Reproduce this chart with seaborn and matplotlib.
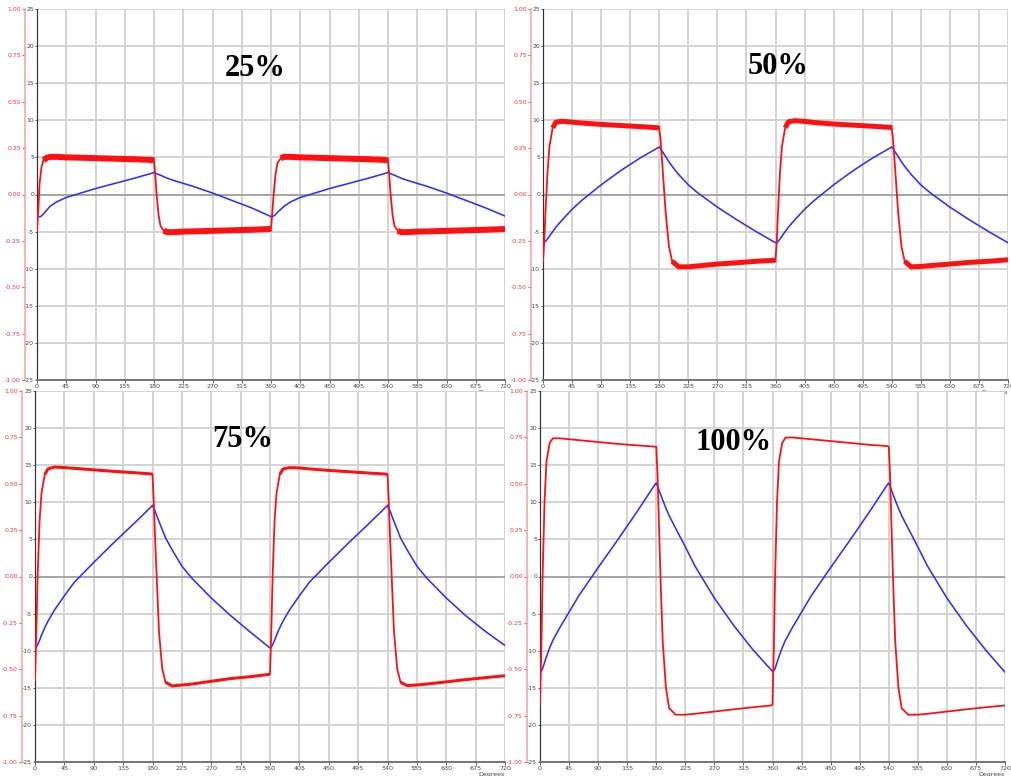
import numpy as np
import matplotlib
matplotlib.use("Agg")
import matplotlib.pyplot as plt
import seaborn as sns

# ---------------- data ----------------
deg = [0, 2, 4, 7, 10, 15, 20, 30, 45, 60, 90, 120, 150, 178,
       180, 182, 184, 187, 190, 195, 200, 210, 225, 240, 270, 300, 330, 358,
       360, 362, 364, 367, 370, 375, 380, 390, 405, 420, 450, 480, 510, 538,
       540, 542, 544, 547, 550, 555, 560, 570, 585, 600, 630, 660, 690, 720]

x_ticks = [0, 45, 90, 135, 180, 225, 270, 315, 360, 405, 450, 495, 540, 585, 630, 675, 720]
y_ticks = [-25, -20, -15, -10, -5, 0, 5, 10, 15, 20, 25]
red_ticks = [-1.0, -0.75, -0.5, -0.25, 0.0, 0.25, 0.5, 0.75, 1.0]
titles = ["25%", "50%", "75%", "100%"]

red_25 = [-0.20, -0.08, 0.06, 0.15, 0.185, 0.198, 0.203, 0.203, 0.200, 0.199, 0.196, 0.193, 0.190, 0.186,
          0.182, 0.10, 0.0, -0.11, -0.17, -0.195, -0.203, -0.203, -0.200, -0.199, -0.196, -0.193, -0.190, -0.186,
          -0.182, -0.10, 0.0, 0.11, 0.17, 0.195, 0.203, 0.203, 0.200, 0.199, 0.196, 0.193, 0.190, 0.186,
          0.182, 0.10, 0.0, -0.11, -0.17, -0.195, -0.203, -0.203, -0.200, -0.199, -0.196, -0.193, -0.190, -0.186]
blue_25 = [-3.0, -3.0, -3.0, -2.9, -2.6, -2.1, -1.6, -1.0, -0.4, 0.0, 0.8, 1.5, 2.2, 2.9,
           3.0, 2.9, 2.8, 2.7, 2.6, 2.4, 2.2, 1.9, 1.5, 1.1, 0.2, -0.8, -1.8, -2.9,
           -3.0, -3.0, -2.9, -2.7, -2.4, -2.0, -1.6, -1.0, -0.4, 0.0, 0.8, 1.5, 2.2, 2.9,
           3.0, 2.9, 2.8, 2.7, 2.6, 2.4, 2.2, 1.9, 1.5, 1.1, 0.2, -0.8, -1.8, -2.9]

red_50 = [-0.36, -0.25, -0.08, 0.12, 0.26, 0.36, 0.39, 0.395, 0.39, 0.385, 0.378, 0.372, 0.366, 0.36,
          0.355, 0.30, 0.20, 0.05, -0.10, -0.28, -0.36, -0.39, -0.39, -0.385, -0.375, -0.368, -0.36, -0.355,
          -0.35, -0.25, -0.08, 0.12, 0.26, 0.36, 0.392, 0.398, 0.394, 0.388, 0.38, 0.374, 0.368, 0.362,
          0.358, 0.30, 0.20, 0.05, -0.10, -0.28, -0.36, -0.39, -0.388, -0.383, -0.375, -0.366, -0.36, -0.352]
blue_50 = [-6.5, -6.5, -6.3, -6.0, -5.6, -5.0, -4.4, -3.4, -2.0, -0.8, 1.3, 3.2, 4.9, 6.3,
           6.4, 6.2, 5.9, 5.5, 5.1, 4.4, 3.8, 2.7, 1.3, 0.2, -1.7, -3.4, -5.0, -6.4,
           -6.5, -6.5, -6.3, -6.0, -5.6, -5.0, -4.4, -3.4, -2.0, -0.8, 1.3, 3.2, 4.9, 6.3,
           6.4, 6.2, 5.9, 5.5, 5.1, 4.4, 3.8, 2.7, 1.3, 0.2, -1.7, -3.4, -5.0, -6.5]

red_75 = [-0.56, -0.30, 0.0, 0.30, 0.45, 0.55, 0.58, 0.59, 0.587, 0.583, 0.575, 0.567, 0.56, 0.553,
          0.55, 0.40, 0.20, -0.05, -0.30, -0.50, -0.57, -0.59, -0.585, -0.58, -0.565, -0.55, -0.54, -0.528,
          -0.525, -0.30, 0.0, 0.30, 0.45, 0.55, 0.58, 0.587, 0.585, 0.58, 0.572, 0.565, 0.558, 0.552,
          0.55, 0.40, 0.20, -0.05, -0.30, -0.50, -0.57, -0.588, -0.585, -0.58, -0.568, -0.556, -0.545, -0.535]
blue_75 = [-9.6, -9.5, -9.2, -8.6, -7.9, -6.9, -6.0, -4.5, -2.6, -0.8, 1.9, 4.5, 7.0, 9.4,
           9.6, 9.2, 8.8, 8.1, 7.4, 6.3, 5.2, 3.6, 1.4, -0.2, -2.9, -5.3, -7.5, -9.5,
           -9.6, -9.5, -9.2, -8.6, -7.9, -6.9, -6.0, -4.5, -2.6, -0.8, 1.9, 4.5, 7.0, 9.4,
           9.6, 9.2, 8.8, 8.1, 7.4, 6.3, 5.2, 3.6, 1.4, -0.2, -2.9, -5.3, -7.4, -9.3]

red_100 = [-0.69, -0.40, 0.0, 0.40, 0.62, 0.72, 0.745, 0.745, 0.74, 0.735, 0.725, 0.715, 0.707, 0.70,
           0.70, 0.55, 0.30, -0.05, -0.35, -0.60, -0.71, -0.745, -0.745, -0.74, -0.728, -0.716, -0.705, -0.695,
           -0.69, -0.40, 0.0, 0.40, 0.62, 0.72, 0.748, 0.75, 0.745, 0.74, 0.73, 0.72, 0.71, 0.703,
           0.70, 0.55, 0.30, -0.05, -0.35, -0.60, -0.71, -0.745, -0.745, -0.74, -0.728, -0.716, -0.705, -0.695]
blue_100 = [-12.9, -12.8, -12.4, -11.6, -10.8, -9.6, -8.6, -7.0, -4.8, -2.6, 1.2, 4.9, 8.7, 12.4,
            12.6, 12.2, 11.7, 11.0, 10.3, 9.2, 8.2, 6.5, 4.0, 1.4, -2.9, -6.6, -9.9, -12.6,
            -12.8, -12.7, -12.4, -11.6, -10.8, -9.6, -8.6, -7.0, -4.8, -2.6, 1.2, 4.9, 8.7, 12.4,
            12.6, 12.2, 11.7, 11.0, 10.3, 9.2, 8.2, 6.5, 4.0, 1.4, -2.9, -6.6, -9.9, -12.9]

# ---------------- layout / style ----------------
W, H = 1011, 776
positions = [
    [37 / W, 1 - 380 / H, 468 / W, 371 / H],
    [543 / W, 1 - 380 / H, 465 / W, 371 / H],
    [35 / W, 1 - 762 / H, 470 / W, 371 / H],
    [540 / W, 1 - 762 / H, 465 / W, 371 / H],
]
title_pos = [(335, 17.0), (364, 17.3), (318, 18.4), (299, 18.0)]
band_px = [6, 5, 3, 0]
red_offset_px = [12, 12, 13, 13]

reds = [red_25, red_50, red_75, red_100]
blues = [blue_25, blue_50, blue_75, blue_100]

sns.set_style("white")
plt.rcParams["font.family"] = ["DejaVu Sans"]

fig = plt.figure(figsize=(W / 100, H / 100), dpi=100)
PX = 72 / 100  # points per pixel

for i in range(4):
    ax = fig.add_axes(positions[i])
    ax2 = ax.twinx()

    ax.set_xlim(0, 720)
    ax.set_ylim(-25, 25)
    ax2.set_ylim(-1, 1)

    # grid
    ax.set_xticks(x_ticks)
    ax.set_yticks(y_ticks)
    ax.grid(True, color="#d4d4d4", linewidth=2 * PX)
    ax.set_axisbelow(True)
    ax.axhline(0, color="#a6a6a6", linewidth=2 * PX, zorder=1)

    # blue trace
    sns.lineplot(x=deg, y=blues[i], ax=ax, color="#2f2fff",
                 linewidth=1.6 * PX, estimator=None, sort=False, zorder=3)

    # red trace on the secondary (red) scale
    r = np.array(reds[i])
    sns.lineplot(x=deg, y=reds[i], ax=ax2, color="#ff1010",
                 linewidth=1.8 * PX, estimator=None, sort=False)
    if band_px[i] > 0:
        band = np.where(np.abs(r) >= 0.85 * np.abs(r).max(), r, np.nan)
        ax2.plot(deg, band, color="#ff1010", linewidth=band_px[i] * PX,
                 solid_capstyle="butt", solid_joinstyle="round")

    # black axes
    for s in ["top", "right"]:
        ax.spines[s].set_visible(False)
    ax.spines["left"].set_color("#333333")
    ax.spines["left"].set_linewidth(1.2 * PX)
    ax.spines["bottom"].set_color("#777777")
    ax.spines["bottom"].set_linewidth(2 * PX)
    ax.set_xticklabels([str(t) for t in x_ticks])
    ax.set_yticklabels([str(t) for t in y_ticks])
    ax.tick_params(axis="x", labelsize=4.6, colors="#444444", length=2,
                   width=0.6, pad=1.2, direction="out", bottom=True)
    ax.tick_params(axis="y", labelsize=4.4, colors="#444444", length=1.5,
                   width=0.6, pad=0.6, direction="out", left=True)
    ax.set_xlabel("")
    ax.set_ylabel("")

    # red axis on the left, outside the black one
    for s in ["top", "right", "bottom"]:
        ax2.spines[s].set_visible(False)
    ax2.spines["left"].set_visible(True)
    ax2.spines["left"].set_position(("outward", red_offset_px[i] * PX))
    ax2.spines["left"].set_color("#ff9a9a")
    ax2.spines["left"].set_linewidth(1.5 * PX)
    ax2.yaxis.set_ticks_position("left")
    ax2.yaxis.set_label_position("left")
    ax2.set_yticks(red_ticks)
    ax2.set_yticklabels([f"{t:.2f}" for t in red_ticks])
    ax2.tick_params(axis="y", labelsize=4.4, colors="#ff3030", length=2,
                    width=0.6, pad=1.0)
    ax2.set_xlabel("")
    ax2.set_ylabel("")

    # title text
    tx, ty = title_pos[i]
    ax.text(tx, ty, titles[i], ha="center", va="center", fontsize=22,
            fontweight="bold", family="Liberation Serif", color="black", zorder=5)

    ax.text(1.0, -0.028, "Degrees", transform=ax.transAxes, ha="right",
            va="top", fontsize=4.5, color="#444444")

fig.savefig("out.png", dpi=100)
